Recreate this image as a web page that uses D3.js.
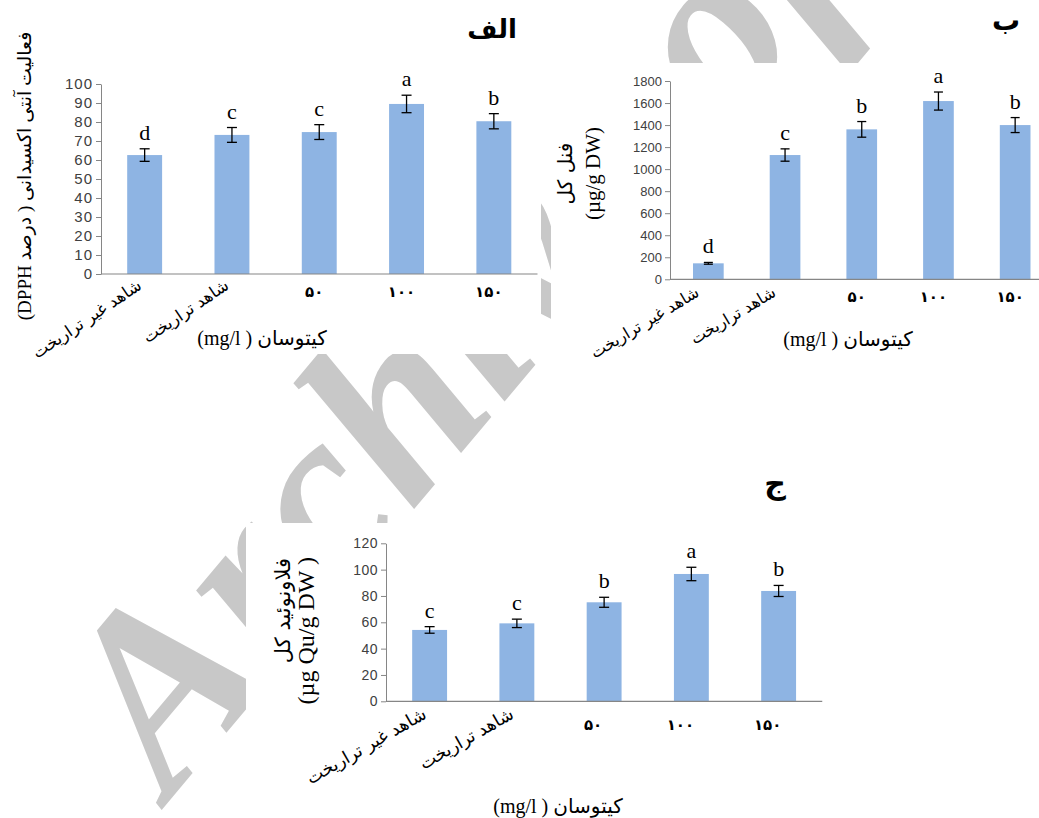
<!DOCTYPE html>
<html>
<head>
<meta charset="utf-8">
<script src="https://cdn.jsdelivr.net/npm/d3@7"></script>
<style>
  body { margin: 0; background: #fff; }
  svg { display: block; }
</style>
</head>
<body>
<svg id="root" width="1039" height="818"></svg>
<script>
// ---------------- data ----------------
const categories = ["شاهد غیر تراریخت", "شاهد تراریخت", "۵۰", "۱۰۰", "۱۵۰"];

const antioxValues  = [62.6, 73.2, 74.7, 89.5, 80.4];
const antioxErrors  = [3.3, 3.9, 3.9, 4.6, 4.0];
const antioxLetters = ["d", "c", "c", "a", "b"];
const antioxTicks   = [0, 10, 20, 30, 40, 50, 60, 70, 80, 90, 100];

const phenolValues  = [145, 1128, 1361, 1618, 1400];
const phenolErrors  = [8, 56, 71, 82, 68];
const phenolLetters = ["d", "c", "b", "a", "b"];
const phenolTicks   = [0, 200, 400, 600, 800, 1000, 1200, 1400, 1600, 1800];

const flavValues  = [54.2, 59.2, 75.2, 96.7, 83.8];
const flavErrors  = [2.5, 3.2, 3.8, 5.1, 4.2];
const flavLetters = ["c", "c", "b", "a", "b"];
const flavTicks   = [0, 20, 40, 60, 80, 100, 120];

const panelTitles = ["الف", "ب", "ج"];
const xAxisTitle = "کیتوسان ( mg/l)";
const antioxYTitle = "فعالیت آنتی اکسیدانی ( درصد DPPH)";
const phenolYTitle = ["فنل کل", "(µg/g DW)"];
const flavYTitle = ["فلاونوئید کل", "(µg Qu/g DW )"];
const watermarkText = "Archive of SID";

// ---------------- drawing ----------------
const svg = d3.select("#root");
const BAR = "#8EB4E3", AXIS = "#868686", TICKTXT = "#404040";
const SERIF = "'Liberation Serif', 'Times New Roman', 'DejaVu Sans', serif";
const ARFONT = "'DejaVu Sans', sans-serif";
const TICKFONT = "'Liberation Sans', Arial, sans-serif";

// watermark (behind the chart pictures), clipped to the page
svg.append("clipPath").attr("id", "page").append("rect")
  .attr("x", 0).attr("y", 0).attr("width", 1039).attr("height", 818);
svg.append("g").attr("clip-path", "url(#page)").append("text")
  .attr("transform", "translate(170,800) rotate(-50)")
  .attr("font-family", SERIF)
  .attr("font-weight", "bold")
  .attr("font-style", "italic")
  .attr("font-size", 250)
  .attr("fill", "#C8C8C8")
  .text(watermarkText);

// white backgrounds of the three pictures
[[0, 0, 541, 354], [551, 63, 488, 312], [246, 523, 793, 295]].forEach(r => {
  svg.append("rect").attr("x", r[0]).attr("y", r[1]).attr("width", r[2]).attr("height", r[3]).attr("fill", "#fff");
});

function drawPanel(cfg) {
  const g = svg.append("g");
  const x = d3.scaleBand().domain(categories).range([cfg.left, cfg.right]).paddingInner(0.6).paddingOuter(0.3);
  const y = d3.scaleLinear().domain([0, cfg.max]).range([cfg.bottom, cfg.top]);

  // y axis
  const ya = g.append("g").attr("transform", `translate(${cfg.left},0)`)
    .call(d3.axisLeft(y).tickValues(cfg.ticks).tickFormat(d3.format("d"))
      .tickSize(5).tickSizeOuter(0).tickPadding(3));
  ya.select(".domain").attr("stroke", AXIS);
  ya.selectAll(".tick line").attr("stroke", AXIS);
  ya.selectAll(".tick text").attr("fill", TICKTXT).attr("font-family", TICKFONT)
    .attr("font-size", cfg.tickSize).attr("letter-spacing", cfg.tickSpacing || 0);

  // bars
  g.selectAll("rect.bar").data(cfg.values).join("rect").attr("class", "bar")
    .attr("x", (d, i) => x(categories[i]))
    .attr("width", x.bandwidth())
    .attr("y", d => y(d))
    .attr("height", d => y(0) - y(d))
    .attr("fill", BAR);

  // x axis line
  g.append("line").attr("x1", cfg.left).attr("x2", cfg.right)
    .attr("y1", y(0)).attr("y2", y(0)).attr("stroke", AXIS).attr("stroke-width", 1.2);

  // error bars
  const cx = i => x(categories[i]) + x.bandwidth() / 2;
  const eg = g.append("g").attr("stroke", "#000").attr("stroke-width", 1.3);
  cfg.values.forEach((v, i) => {
    const e = cfg.errors[i];
    eg.append("line").attr("x1", cx(i)).attr("x2", cx(i)).attr("y1", y(v + e)).attr("y2", y(v - e));
    eg.append("line").attr("x1", cx(i) - cfg.cap).attr("x2", cx(i) + cfg.cap).attr("y1", y(v + e)).attr("y2", y(v + e));
    eg.append("line").attr("x1", cx(i) - cfg.cap).attr("x2", cx(i) + cfg.cap).attr("y1", y(v - e)).attr("y2", y(v - e));
  });

  // significance letters
  g.selectAll("text.sig").data(cfg.letters).join("text").attr("class", "sig")
    .attr("x", (d, i) => cx(i))
    .attr("y", (d, i) => y(cfg.values[i] + cfg.errors[i]) - 9)
    .attr("text-anchor", "middle")
    .attr("font-family", SERIF).attr("font-size", 22).attr("fill", "#000")
    .text(d => d);

  // category labels
  categories.forEach((c, i) => {
    if (/^[۰-۹]+$/.test(c)) {
      g.append("text").attr("x", cx(i) + cfg.numDx).attr("y", y(0) + cfg.numDy)
        .attr("text-anchor", "middle").attr("font-family", ARFONT).attr("font-weight", "bold")
        .attr("font-size", 15).attr("letter-spacing", 3).attr("fill", "#000").text(c);
    } else {
      g.append("text")
        .attr("transform", `translate(${cx(i) + cfg.labDx},${y(0) + cfg.labDy}) rotate(${cfg.angle})`)
        .attr("text-anchor", "end").attr("font-family", ARFONT)
        .attr("font-size", cfg.labSize).attr("fill", "#000").text(c);
    }
  });

  // x axis title
  g.append("text").attr("x", cfg.xtX).attr("y", cfg.xtY).attr("direction", "rtl")
    .attr("text-anchor", "middle").attr("font-family", SERIF).attr("font-size", 20)
    .attr("fill", "#000").text(xAxisTitle);

  // panel title
  g.append("text").attr("x", cfg.titleX).attr("y", cfg.titleY).attr("text-anchor", "middle")
    .attr("font-family", ARFONT).attr("font-weight", "bold").attr("font-size", cfg.titleSize)
    .attr("fill", "#000").text(cfg.title);
  return g;
}

// panel الف
const gA = drawPanel({
  left: 101, right: 537.5, top: 84, bottom: 274, max: 100, ticks: antioxTicks,
  values: antioxValues, errors: antioxErrors, letters: antioxLetters,
  tickSize: 15, tickSpacing: 1, cap: 5, angle: -34, labDx: -2, labDy: 14, labSize: 16.5,
  numDx: -5, numDy: 23, xtX: 262, xtY: 345, title: panelTitles[0], titleX: 492, titleY: 38, titleSize: 26
});
gA.append("text").attr("transform", "translate(31,176) rotate(-90)").attr("direction", "rtl")
  .attr("text-anchor", "middle").attr("font-family", SERIF).attr("font-size", 19).attr("fill", "#000")
  .text(antioxYTitle);

// panel ب
const gB = drawPanel({
  left: 670, right: 1053.5, top: 81, bottom: 279.3, max: 1800, ticks: phenolTicks,
  values: phenolValues, errors: phenolErrors, letters: phenolLetters,
  tickSize: 13, cap: 4.5, angle: -31, labDx: -8, labDy: 16, labSize: 16,
  numDx: -5, numDy: 23, xtX: 848, xtY: 346, title: panelTitles[1], titleX: 1006, titleY: 30, titleSize: 28
});
gB.append("text").attr("transform", "translate(572,173.5) rotate(-90)").attr("text-anchor", "middle")
  .attr("font-family", ARFONT).attr("font-size", 20).attr("fill", "#000").text(phenolYTitle[0]);
gB.append("text").attr("transform", "translate(600,173.5) rotate(-90)").attr("text-anchor", "middle")
  .attr("font-family", SERIF).attr("font-size", 21).attr("fill", "#000").text(phenolYTitle[1]);

// panel ج
const gC = drawPanel({
  left: 386, right: 822.25, top: 543.3, bottom: 701.3, max: 120, ticks: flavTicks,
  values: flavValues, errors: flavErrors, letters: flavLetters,
  tickSize: 14, tickSpacing: 0.5, cap: 5, angle: -30, labDx: -2, labDy: 16, labSize: 17.5,
  numDx: -11, numDy: 29, xtX: 558, xtY: 813, title: panelTitles[2], titleX: 775, titleY: 494, titleSize: 30
});
gC.append("text").attr("transform", "translate(290,558) rotate(-90)").attr("text-anchor", "end")
  .attr("font-family", ARFONT).attr("font-size", 21).attr("fill", "#000").text(flavYTitle[0]);
gC.append("text").attr("transform", "translate(314,557) rotate(-90)").attr("text-anchor", "end")
  .attr("font-family", SERIF).attr("font-size", 24).attr("fill", "#000").text(flavYTitle[1]);
</script>
</body>
</html>
